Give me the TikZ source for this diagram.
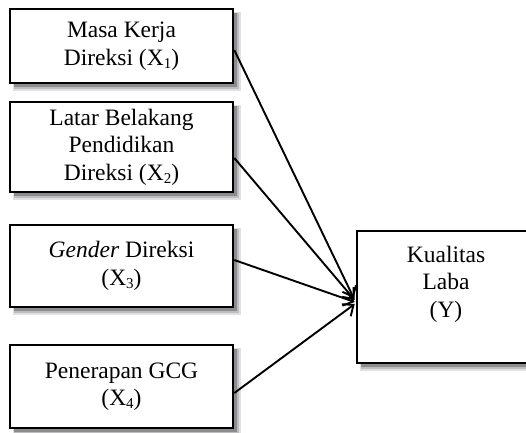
\documentclass[tikz,border=0pt]{standalone}
\usepackage{fontspec}
\setmainfont{Liberation Serif}
\usetikzlibrary{arrows.meta}
\newcommand\subidx[1]{\raisebox{-0.3ex}{\fontsize{15}{15}\selectfont #1}}
\definecolor{shfar}{rgb}{0.88,0.88,0.89}
\definecolor{shmid}{rgb}{0.74,0.74,0.75}
\definecolor{shnear}{rgb}{0.55,0.55,0.56}
\tikzset{
  varbox/.style={draw=black, line width=2.6pt, fill=white, minimum width=223pt,
    align=center, inner sep=0pt, font=\fontsize{23.5}{27.5}\selectfont},
  lbl/.style={align=center, inner sep=0pt, font=\fontsize{23.5}{27.5}\selectfont},
  conn/.style={line width=1.9pt, -{Straight Barb[length=9pt, width=15pt, line width=1.9pt]}},
  shadowfar/.style={fill=shfar},
  shadowmid/.style={fill=shmid},
  shadownear/.style={fill=shnear}
}
\begin{document}
\begin{tikzpicture}
\useasboundingbox (0,0) rectangle (526pt,-432pt);
\begin{scope}[x=1pt, y=-1pt]
% drop shadows (drawn first, behind the boxes)
\fill[shadowfar] (13,12) rectangle (241,91);
\fill[shadowmid] (14,13) rectangle (239,89);
\fill[shadownear] (14,13) rectangle (236.5,86.5);
\fill[shadowfar] (13,105) rectangle (241,200);
\fill[shadowmid] (14,106) rectangle (239,198);
\fill[shadownear] (14,106) rectangle (236.5,195.5);
\fill[shadowfar] (13,228) rectangle (241,315);
\fill[shadowmid] (14,229) rectangle (239,313);
\fill[shadownear] (14,229) rectangle (236.5,310.5);
\fill[shadowfar] (13,348) rectangle (241,436);
\fill[shadowmid] (14,349) rectangle (239,434);
\fill[shadownear] (14,349) rectangle (236.5,431.5);
\fill[shadowfar] (360,234) rectangle (568,371);
\fill[shadowmid] (361,235) rectangle (566,369);
\fill[shadownear] (361,235) rectangle (563.5,366.5);
\node[varbox, minimum height=74pt] (b1) at (121.5,46) {Masa Kerja\\Direksi (X\subidx{1})};
\node[varbox, minimum height=90pt] (b2) at (121.5,147) {Latar Belakang\\Pendidikan\\Direksi (X\subidx{2})};
\node[varbox, minimum height=82pt] (b3) at (121.5,266) {\textit{Gender} Direksi\\(X\subidx{3})};
\node[varbox, minimum height=83pt] (b4) at (121.5,386.5) {Penerapan GCG\\(X\subidx{4})};
\node[varbox, minimum width=203pt, minimum height=132pt] (y) at (458.5,297) {};
\node[lbl] (ytext) at (446,284) {Kualitas\\Laba\\(Y)};
\coordinate (t1) at ([yshift=-1pt]y.west);
\coordinate (t2) at ([yshift=-3pt]y.west);
\coordinate (t3) at ([yshift=-5pt]y.west);
\coordinate (t4) at ([yshift=-7pt]y.west);
\draw[conn] ([yshift=-4pt]b1.east) -- ([xshift=-2pt]t1);
\draw[conn] ([yshift=-11pt]b2.east) -- ([xshift=-1pt]t2);
\draw[conn] ([yshift=6pt]b3.east) -- ([xshift=-1pt]t3);
\draw[conn] ([yshift=-6.5pt]b4.east) -- ([xshift=-1pt]t4);
\end{scope}
\end{tikzpicture}
\end{document}
